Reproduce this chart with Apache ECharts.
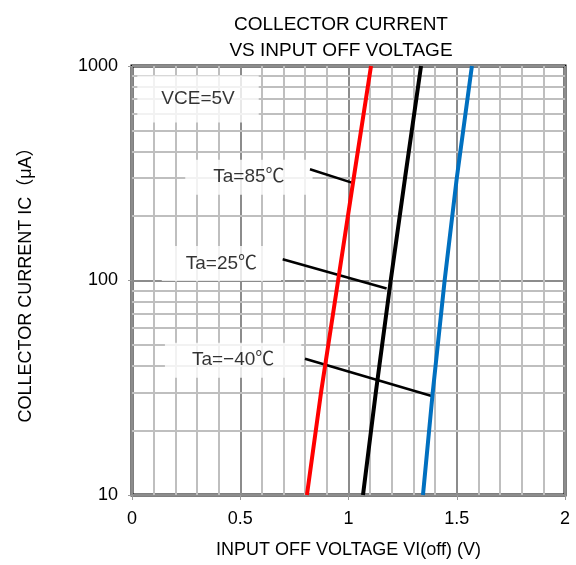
<!DOCTYPE html>
<html>
<head>
<meta charset="utf-8">
<script src="https://cdn.jsdelivr.net/npm/echarts@6/dist/echarts.min.js"></script>
<style>
  html, body { margin: 0; padding: 0; background: #fff; }
  #chart { width: 576px; height: 565px; }
</style>
</head>
<body>
<div id="chart"></div>
<script>
// values
var currentPts = [10, 30, 100, 300, 1000];          // collector current, uA
var voltRed = [0.808, 0.873, 0.952, 1.024, 1.104];    // Ta=85
var voltBlack = [1.067, 1.126, 1.195, 1.261, 1.335];  // Ta=25
var voltBlue = [1.344, 1.389, 1.444, 1.500, 1.570];   // Ta=-40

var xTicks = [0, 0.5, 1, 1.5, 2];
var yMinorGrid = [20, 30, 40, 50, 60, 70, 80, 90, 200, 300, 400, 500, 600, 700, 800, 900];

// annotation text + where it sits (data coords)
var noteText = ['VCE=5V', 'Ta=85℃', 'Ta=25℃', 'Ta=−40℃'];
var noteX = [0.305, 0.540, 0.413, 0.467];
var noteY = [701, 303, 120, 42.5];
var notePad = [[14, 24], [8, 28], [8, 24], [8, 27]];
// leader lines: [x1, y1, x2, y2]
var leaders = [
  [0.822, 330, 1.015, 286],
  [0.696, 125.6, 1.176, 91.7],
  [0.799, 43.2, 1.392, 28.8]
];

var font = '"Liberation Sans", Arial, "Noto Sans CJK JP", sans-serif';

function zip(xs, ys){
  var out = [];
  for (var i = 0; i < xs.length; i++) out.push([xs[i], ys[i]]);
  return out;
}

var chart = echarts.init(document.getElementById('chart'));

var series = [];

// minor horizontal grid (log decades 2..9)
series.push({
  type: 'line',
  data: [[0, 10]],
  showSymbol: false,
  lineStyle: { width: 0 },
  silent: true,
  z: 1,
  markLine: {
    silent: true,
    animation: false,
    symbol: ['none', 'none'],
    label: { show: false },
    lineStyle: { color: '#bfbfbf', width: 2, type: 'solid' },
    data: yMinorGrid.map(function(v){ return { yAxis: v }; })
  }
});

// annotation boxes (own layer so the white covers the grid)
series.push({
  type: 'scatter',
  symbolSize: 1,
  itemStyle: { color: '#fff' },
  silent: true,
  zlevel: 1,
  data: noteText.map(function(t, i){
    return {
      value: [noteX[i], noteY[i]],
      label: {
        show: true,
        position: 'inside',
        formatter: t,
        color: '#000',
        fontSize: 19,
        fontFamily: font,
        backgroundColor: '#fff',
        padding: notePad[i]
      }
    };
  })
});

// leader lines
leaders.forEach(function(l){
  series.push({
    type: 'line',
    data: [[l[0], l[1]], [l[2], l[3]]],
    showSymbol: false,
    silent: true,
    lineStyle: { color: '#000', width: 2.5 },
    zlevel: 2
  });
});

var curves = [
  { name: 'Ta=85', color: '#ff0000', v: voltRed },
  { name: 'Ta=25', color: '#000000', v: voltBlack },
  { name: 'Ta=-40', color: '#0070c0', v: voltBlue }
];
curves.forEach(function(c){
  series.push({
    name: c.name,
    type: 'line',
    data: zip(c.v, currentPts),
    showSymbol: false,
    silent: true,
    lineStyle: { color: c.color, width: 4 },
    zlevel: 2
  });
});

var option = {
  animation: false,
  title: {
    text: 'COLLECTOR CURRENT\nVS INPUT OFF VOLTAGE',
    left: 336,
    top: 7,
    textAlign: 'center',
    textStyle: {
      fontSize: 19,
      fontWeight: 'normal',
      color: '#000',
      fontFamily: font,
      lineHeight: 26
    }
  },
  grid: {
    left: 132,
    right: 11,
    top: 66,
    bottom: 70,
    show: true,
    borderColor: '#000',
    borderWidth: 3,
    backgroundColor: 'transparent'
  },
  xAxis: {
    type: 'value',
    min: 0,
    max: 2,
    interval: 0.5,
    name: 'INPUT OFF VOLTAGE VI(off) (V)',
    nameLocation: 'middle',
    nameGap: 46,
    nameTextStyle: { fontSize: 18, color: '#000', fontFamily: font },
    axisLine: { show: false },
    axisTick: { show: true, length: 5, lineStyle: { color: '#999', width: 1 } },
    axisLabel: {
      fontSize: 18, color: '#000', fontFamily: font, margin: 15,
      formatter: function(v){ return xTicks.indexOf(v) >= 0 ? String(v) : ''; }
    },
    splitLine: { show: true, lineStyle: { color: '#8c8c8c', width: 2 } },
    minorTick: { show: false, splitNumber: 5 },
    minorSplitLine: { show: true, lineStyle: { color: '#bfbfbf', width: 2 } }
  },
  yAxis: {
    type: 'log',
    logBase: 10,
    min: 10,
    max: 1000,
    name: 'COLLECTOR CURRENT IC（μA）',
    nameLocation: 'middle',
    nameGap: 97,
    nameTextStyle: { fontSize: 18, color: '#000', fontFamily: font },
    axisLine: { show: false },
    axisTick: { show: true, length: 4, lineStyle: { color: '#999', width: 1 } },
    axisLabel: {
      fontSize: 18, color: '#000', fontFamily: font, margin: 14,
      formatter: function(v){ return String(Math.round(v)); }
    },
    splitLine: { show: true, lineStyle: { color: '#8c8c8c', width: 2 } }
  },
  series: series
};

chart.setOption(option);
</script>
</body>
</html>
